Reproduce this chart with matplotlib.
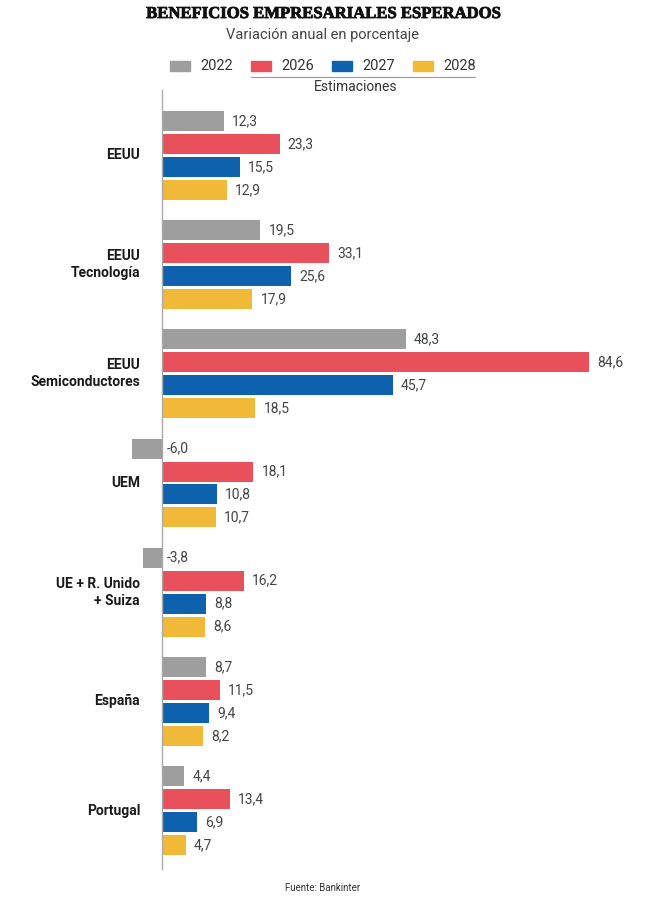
import matplotlib
matplotlib.use("Agg")
import matplotlib.pyplot as plt
from matplotlib.patches import Rectangle
from matplotlib.lines import Line2D
import matplotlib.patheffects as pe

categories = ["EEUU", "EEUU\nTecnología", "EEUU\nSemiconductores", "UEM",
              "UE + R. Unido\n+ Suiza", "España", "Portugal"]
years = ["2022", "2026", "2027", "2028"]
v2022 = [12.3, 19.5, 48.3, -6.0, -3.8, 8.7, 4.4]
v2026 = [23.3, 33.1, 84.6, 18.1, 16.2, 11.5, 13.4]
v2027 = [15.5, 25.6, 45.7, 10.8, 8.8, 9.4, 6.9]
v2028 = [12.9, 17.9, 18.5, 10.7, 8.6, 8.2, 4.7]
series = [v2022, v2026, v2027, v2028]
colors = ["#9e9e9e", "#e8505b", "#0e62ad", "#f0b937"]

W, H = 646, 917
fig = plt.figure(figsize=(W / 100, H / 100), dpi=100)
plt.rcParams['font.family'] = ['Roboto', 'DejaVu Sans']

def fx(px):
    return px / W

def fy(py):
    return 1 - py / H

# axes
scale = 5.05
xmin, xmax = -8, 90
left_px = 162 - (-xmin) * scale
width_px = (xmax - xmin) * scale
top_px, bot_px = 90, 870
ax = fig.add_axes([fx(left_px), fy(bot_px), width_px / W, (bot_px - top_px) / H])
gpitch = 4.75
bh = 0.87
for j, (vals, c) in enumerate(zip(series, colors)):
    ys = [g * gpitch + j for g in range(len(categories))]
    ax.barh(ys, vals, height=bh, color=c, zorder=2)
    for y, v in zip(ys, vals):
        xt = v + 1.6 if v > 0 else 1.0
        ax.text(xt, y, f"{v:.1f}".replace(".", ","), va="center", ha="left",
                fontsize=10, color="#444444", clip_on=False)
lab_x = (140 - 162) / scale
for g, cat in enumerate(categories):
    ax.text(lab_x, g * gpitch + 1.5, cat,
            ha="right", va="center", fontsize=10, fontweight="bold",
            color="#1a1a1a", linespacing=1.25, clip_on=False)
ax.set_xlim(xmin, xmax)
ax.set_ylim(6 * gpitch + 3 + 25 / 23, -31 / 23)
ax.axvline(0, color="#aaaaaa", lw=1, zorder=3)
for s in ax.spines.values():
    s.set_visible(False)
ax.set_xticks([])
ax.set_yticks([])

# title & subtitle
fig.text(fx(323), fy(14), "BENEFICIOS EMPRESARIALES ESPERADOS", ha="center", va="center",
         fontsize=12, fontweight="bold", family=["Liberation Serif"], color="#111111",
         path_effects=[pe.withStroke(linewidth=0.6, foreground="#111111")])
fig.text(fx(323), fy(35), "Variación anual en porcentaje", ha="center", va="center",
         fontsize=10.5, color="#444444")

# legend
lx = [170, 251, 332, 413]
for x, c, yr in zip(lx, colors, years):
    fig.patches.append(Rectangle((fx(x), fy(71)), 20 / W, 10 / H, transform=fig.transFigure,
                                 color=c))
    fig.text(fx(x + 30), fy(66), yr, ha="left", va="center", fontsize=10.5,
             color="#333333")
fig.lines.append(Line2D([fx(251), fx(475)], [fy(77), fy(77)], transform=fig.transFigure,
                        color="#999999", lw=0.8))
fig.text(fx(356), fy(87), "Estimaciones", ha="center", va="center", fontsize=10,
         color="#333333")

fig.text(fx(323), fy(888), "Fuente: Bankinter", ha="center", va="center", fontsize=7,
         color="#333333")

fig.savefig("out.png", dpi=100)
